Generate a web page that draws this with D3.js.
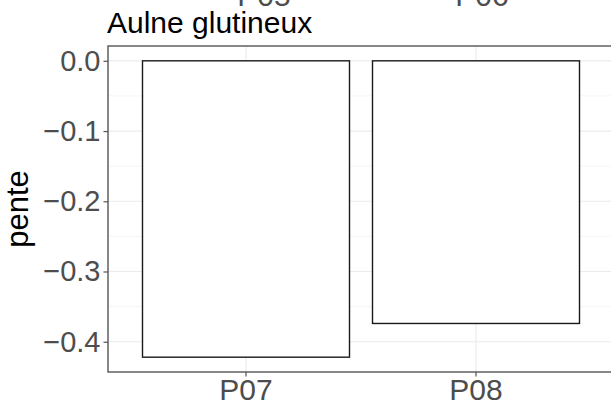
<!DOCTYPE html>
<html>
<head>
<meta charset="utf-8">
<script src="https://cdn.jsdelivr.net/npm/d3@7"></script>
<style>
  html, body { margin: 0; padding: 0; background: #ffffff; }
  svg { display: block; }
  text { font-family: "Liberation Sans", Arial, sans-serif; }
</style>
</head>
<body>
<div id="chart"></div>
<script>
// ---- data ----
const categories = ["P07", "P08"];
const values = [-0.422, -0.374];
const yTicks = [0.0, -0.1, -0.2, -0.3, -0.4];
const yMinorTicks = [-0.05, -0.15, -0.25, -0.35];
const upperLabels = ["P05", "P06"];
const title = "Aulne glutineux";
const yTitle = "pente";

// ---- layout ----
const W = 611, H = 409;
const panel = { left: 108, top: 46, right: 614, bottom: 372 };

const svg = d3.select("#chart").append("svg")
  .attr("width", W).attr("height", H);

// y scale with ggplot-like 5% expansion
const yMin = Math.min(0, d3.min(values)), yMax = Math.max(0, d3.max(values));
const pad = (yMax - yMin) * 0.05;
const y = d3.scaleLinear().domain([yMin - pad, yMax + pad]).range([panel.bottom, panel.top]);

const x = d3.scaleBand().domain(categories)
  .range([panel.left, panel.right])
  .paddingInner(0.1).paddingOuter(0.15);

const g = svg.append("g");

// panel background
g.append("rect")
  .attr("x", panel.left).attr("y", panel.top)
  .attr("width", panel.right - panel.left).attr("height", panel.bottom - panel.top)
  .attr("fill", "#ffffff");

// minor grid
g.selectAll(".ymin").data(yMinorTicks).enter().append("line")
  .attr("x1", panel.left).attr("x2", panel.right)
  .attr("y1", d => y(d)).attr("y2", d => y(d))
  .attr("stroke", "#f2f2f2").attr("stroke-width", 0.8);

// major grid
g.selectAll(".ymaj").data(yTicks).enter().append("line")
  .attr("x1", panel.left).attr("x2", panel.right)
  .attr("y1", d => y(d)).attr("y2", d => y(d))
  .attr("stroke", "#ebebeb").attr("stroke-width", 1.2);
g.selectAll(".xmaj").data(categories).enter().append("line")
  .attr("y1", panel.top).attr("y2", panel.bottom)
  .attr("x1", d => x(d) + x.bandwidth() / 2).attr("x2", d => x(d) + x.bandwidth() / 2)
  .attr("stroke", "#ebebeb").attr("stroke-width", 1.2);

// bars
g.selectAll(".bar").data(categories).enter().append("rect")
  .attr("x", d => x(d))
  .attr("width", x.bandwidth())
  .attr("y", (d, i) => y(Math.max(0, values[i])))
  .attr("height", (d, i) => Math.abs(y(values[i]) - y(0)))
  .attr("fill", "#ffffff")
  .attr("stroke", "#1a1a1a").attr("stroke-width", 1.4);

// panel border
g.append("rect")
  .attr("x", panel.left).attr("y", panel.top)
  .attr("width", panel.right - panel.left).attr("height", panel.bottom - panel.top)
  .attr("fill", "none").attr("stroke", "#555555").attr("stroke-width", 1.4);

// y axis
const yAxis = d3.axisLeft(y).tickValues(yTicks).tickSize(4.5).tickPadding(3)
  .tickFormat(d => d3.format(".1f")(d).replace("-", "\u2212"));
const ya = svg.append("g").attr("transform", `translate(${panel.left},0)`).call(yAxis);
ya.select(".domain").remove();
ya.selectAll(".tick line").attr("stroke", "#555555").attr("stroke-width", 1.2);
ya.selectAll(".tick text")
  .attr("fill", "#4d4d4d")
  .style("font-size", "29px")
  .style("font-family", "'Liberation Sans', Arial, sans-serif");

// x axis
const xAxis = d3.axisBottom(x).tickSize(4.5).tickPadding(2);
const xa = svg.append("g").attr("transform", `translate(0,${panel.bottom})`).call(xAxis);
xa.select(".domain").remove();
xa.selectAll(".tick line").attr("stroke", "#555555").attr("stroke-width", 1.2);
xa.selectAll(".tick text")
  .attr("fill", "#4d4d4d")
  .style("font-size", "30px")
  .style("font-family", "'Liberation Sans', Arial, sans-serif");

// y title
svg.append("text")
  .attr("transform", `translate(28,${(panel.top + panel.bottom) / 2}) rotate(-90)`)
  .attr("text-anchor", "middle")
  .attr("fill", "#000000")
  .style("font-size", "31px")
  .text(yTitle);

// title
svg.append("text")
  .attr("x", 107).attr("y", 33)
  .attr("fill", "#000000")
  .style("font-size", "30px")
  .text(title);

// cut-off labels of the facet above
const upperPos = [264, 482];
svg.selectAll(".upper").data(upperLabels).enter().append("text")
  .attr("x", (d, i) => upperPos[i]).attr("y", 6)
  .attr("text-anchor", "middle")
  .attr("fill", "#4d4d4d")
  .style("font-size", "30px")
  .text(d => d);
</script>
</body>
</html>
